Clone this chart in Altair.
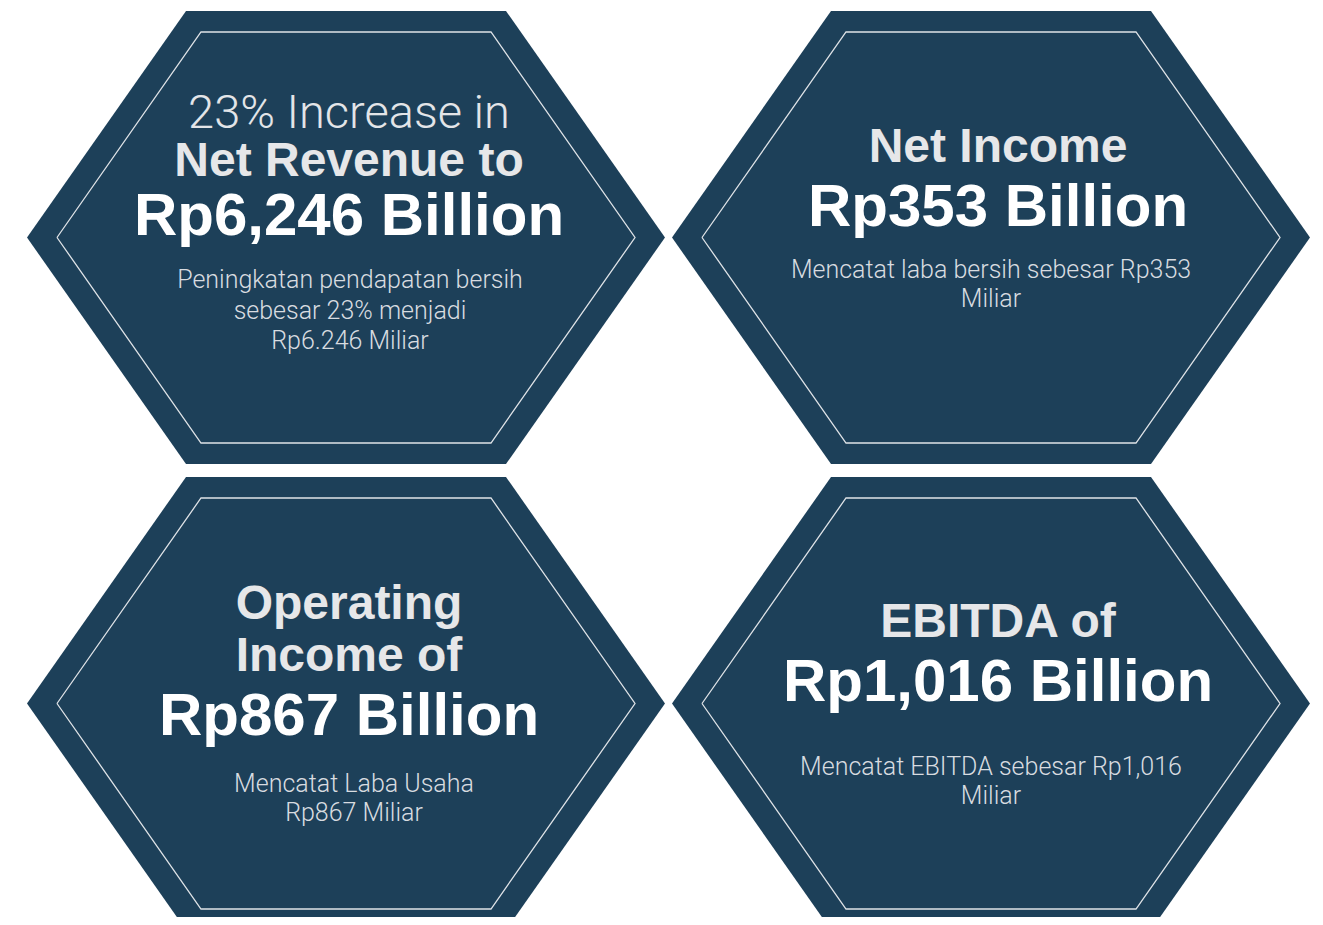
import altair as alt
import pandas as pd

# ---- content ----
card_ids = ["revenue", "net_income", "operating", "ebitda"]
light_heads = [["23% Increase in"], [], [], []]
bold_heads = [["Net Revenue to"], ["Net Income"], ["Operating", "Income  of"], ["EBITDA of"]]
big_values = ["Rp6,246 Billion", "Rp353 Billion", "Rp867 Billion", "Rp1,016 Billion"]
sub_texts = [
    ["Peningkatan pendapatan bersih", "sebesar 23% menjadi", "Rp6.246 Miliar"],
    ["Mencatat laba bersih sebesar Rp353", "Miliar"],
    ["Mencatat Laba Usaha", "Rp867 Miliar"],
    ["Mencatat EBITDA sebesar Rp1,016", "Miliar"],
]

# ---- layout (pixel space of the plot area) ----
W, H = 1307, 909
OFF = 8
centers = [(346, 237.5), (991, 237.5), (346, 703.5), (991, 703.5)]
OUT = dict(hw=319, hl=160, hh=226.5)
INN = dict(hw=289, hl=145, hh=205.5)

# text layout per card: (x_center_bold, light_baselines, bold_baselines, big_baseline, sub_x, sub_baselines)
text_layout = [
    (349, [128], [176], 235, 350, [288, 319, 349]),
    (998, [], [162], 226, 991, [278, 307]),
    (349, [], [619, 671], 735, 354, [792, 821]),
    (998, [], [637], 701, 991, [775, 804]),
]

FILL = "#1d4059"

area_rows, line_rows = [], []
for cid, (cx, cy) in zip(card_ids, centers):
    o = OUT
    xs = [cx - o["hw"], cx - o["hl"], cx + o["hl"], cx + o["hw"]]
    ys = [cy, cy - o["hh"], cy - o["hh"], cy]
    y2s = [cy, cy + o["hh"], cy + o["hh"], cy]
    for x, y, y2 in zip(xs, ys, y2s):
        area_rows.append(dict(card=cid, x=x - OFF, y=y - OFF, y2=y2 - OFF))
    i = INN
    pts = [
        (cx - i["hw"], cy), (cx - i["hl"], cy - i["hh"]), (cx + i["hl"], cy - i["hh"]),
        (cx + i["hw"], cy), (cx + i["hl"], cy + i["hh"]), (cx - i["hl"], cy + i["hh"]),
        (cx - i["hw"], cy),
    ]
    for k, (x, y) in enumerate(pts):
        line_rows.append(dict(card=cid, x=x - OFF, y=y - OFF, k=k))

light_rows, bold_rows, big_rows, sub_rows = [], [], [], []
for idx, cid in enumerate(card_ids):
    bx, lb, bb, gb, sx, sb = text_layout[idx]
    for t, y in zip(light_heads[idx], lb):
        light_rows.append(dict(card=cid, t=t, x=bx - OFF, y=y - OFF))
    for t, y in zip(bold_heads[idx], bb):
        bold_rows.append(dict(card=cid, t=t, x=bx - OFF, y=y - OFF))
    big_rows.append(dict(card=cid, t=big_values[idx], x=bx - OFF, y=gb - OFF))
    for t, y in zip(sub_texts[idx], sb):
        sub_rows.append(dict(card=cid, t=t, x=sx - OFF, y=y - OFF))

xs = alt.Scale(domain=[0, W], range=[0, W], nice=False, zero=False)
ys = alt.Scale(domain=[0, H], range=[0, H], nice=False, zero=False)
X = lambda: alt.X("x:Q", scale=xs, axis=None)
Y = lambda: alt.Y("y:Q", scale=ys, axis=None)

hexes = alt.Chart(pd.DataFrame(area_rows)).mark_area(
    color=FILL, orient="vertical", interpolate="linear", clip=True
).encode(x=X(), y=Y(), y2="y2:Q", detail="card:N")

outline = alt.Chart(pd.DataFrame(line_rows)).mark_line(
    color="#dfe3e7", strokeWidth=1.3, clip=True
).encode(x=X(), y=Y(), order="k:Q", detail="card:N")

def text_layer(rows, font, weight, size, color):
    return alt.Chart(pd.DataFrame(rows)).mark_text(
        font=font, fontWeight=weight, fontSize=size, color=color,
        align="center", baseline="alphabetic"
    ).encode(x=X(), y=Y(), text="t:N")

light = text_layer(light_rows, "Roboto", 300, 47, "#e3e5e8")
bold = text_layer(bold_rows, "Liberation Sans", "bold", 48, "#e6e7e9")
big = text_layer(big_rows, "Liberation Sans", "bold", 60, "#ffffff")
sub = text_layer(sub_rows, "Roboto", 300, 25, "#d8dce0")

chart = alt.layer(hexes, outline, light, bold, big, sub).properties(
    width=W, height=H, padding=0, autosize=alt.AutoSizeParams(type="none"),
    view=alt.ViewBackground(stroke="#ffffff", strokeWidth=0, fill="#ffffff"),
).configure_view(stroke="#ffffff", strokeWidth=0).configure(background="#ffffff")

chart.save("out.html", embed_options={"renderer": "svg", "actions": False})
